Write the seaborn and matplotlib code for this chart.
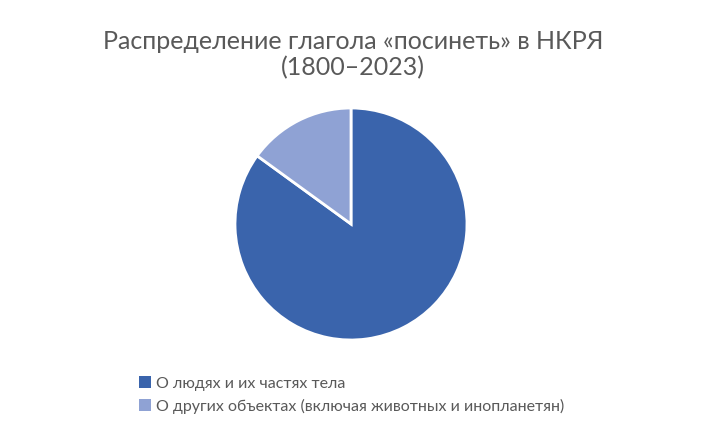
import seaborn as sns
import matplotlib
import matplotlib.pyplot as plt
from matplotlib.patches import Patch

matplotlib.use("agg")

title_text = "Распределение глагола «посинеть» в НКРЯ\n(1800–2023)"
categories = ["О людях и их частях тела",
              "О других объектах (включая животных и инопланетян)"]
shares = [85, 15]
colors = ["#3A64AC", "#8FA2D4"]

sns.set_theme(style="white")
plt.rcParams["font.family"] = ["Lato", "DejaVu Sans"]

fig = plt.figure(figsize=(7.03, 4.22), dpi=100)
fig.patch.set_facecolor("white")

# pie area, centred roughly where the reference has it
ax = fig.add_axes([(351 - 116) / 703, (422 - 224 - 116) / 422, 232 / 703, 232 / 422])
ax.pie(shares, colors=colors, startangle=90, counterclock=False, radius=1,
       wedgeprops={"edgecolor": "white", "linewidth": 2})
ax.set_xlim(-1.0, 1.0)
ax.set_ylim(-1.0, 1.0)
ax.set_aspect("equal")
ax.axis("off")

fig.text(353 / 703, 1 - 55 / 422, title_text, ha="center", va="center",
         fontsize=18, color="#595959", linespacing=1.15)

handles = [Patch(facecolor=c, edgecolor="none") for c in colors]
fig.legend(handles, categories, loc="upper left",
           bbox_to_anchor=(133 / 703, 1 - 370 / 422), frameon=False,
           fontsize=11.5, labelcolor="#595959", handlelength=0.7, handleheight=0.7,
           handletextpad=0.35, labelspacing=0.5, borderaxespad=0)

fig.savefig("out.png", dpi=100, facecolor="white")
